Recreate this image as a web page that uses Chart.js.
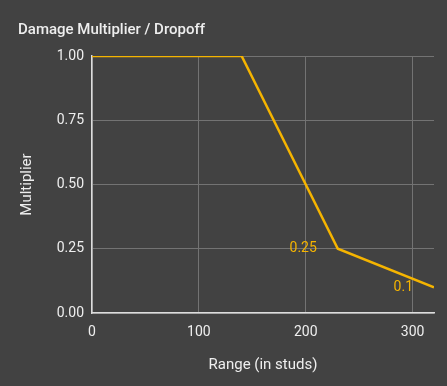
<!DOCTYPE html>
<html>
<head>
<meta charset="utf-8">
<script src="https://cdn.jsdelivr.net/npm/chart.js@4"></script>
<style>
  html, body { margin: 0; padding: 0; background: #424242; }
  #wrap { width: 447px; height: 386px; }
</style>
</head>
<body>
<div id="wrap"><canvas id="chart"></canvas></div>
<script>
// Data
const ranges = [0, 140, 230, 320];
const multipliers = [1, 1, 0.25, 0.1];
const pointNotes = ["", "", "0.25", "0.1"];
const xTicks = [0, 100, 200, 300];
const yTicks = [0, 0.25, 0.5, 0.75, 1];

const TEXT = "#eeeeee";
const LINE = "#f5b400";

// Draws the small value notes beside the last two points
const pointNotesPlugin = {
  id: "pointNotes",
  afterDatasetsDraw(chart) {
    const ctx = chart.ctx;
    const meta = chart.getDatasetMeta(0);
    ctx.save();
    ctx.font = "14px Roboto";
    ctx.fillStyle = LINE;
    ctx.textAlign = "right";
    ctx.textBaseline = "middle";
    meta.data.forEach((pt, i) => {
      if (!pointNotes[i]) return;
      ctx.fillText(pointNotes[i], pt.x - 21, pt.y);
    });
    ctx.restore();
  }
};

new Chart(document.getElementById("chart"), {
  type: "line",
  data: {
    datasets: [{
      data: ranges.map((r, i) => ({ x: r, y: multipliers[i] })),
      borderColor: LINE,
      borderWidth: 2.5,
      pointRadius: 0,
      tension: 0,
      fill: false
    }]
  },
  plugins: [pointNotesPlugin],
  options: {
    responsive: true,
    maintainAspectRatio: false,
    animation: false,
    layout: { padding: { left: 18, right: 13, top: 0, bottom: 0 } },
    plugins: {
      legend: { display: false },
      tooltip: { enabled: false },
      title: {
        display: true,
        text: "Damage Multiplier / Dropoff",
        align: "start",
        color: TEXT,
        font: { family: "Roboto", size: 15, weight: "500" },
        padding: { top: 21, bottom: 17 }
      }
    },
    scales: {
      x: {
        type: "linear",
        min: 0,
        max: 320,
        afterFit: (s) => { s.height = 73; },
        afterBuildTicks: (s) => { s.ticks = xTicks.map((v) => ({ value: v })); },
        ticks: {
          color: TEXT,
          padding: 11,
          font: { family: "Roboto", size: 14 }
        },
        grid: { color: "#737373", drawTicks: false },
        border: { color: "#dddddd", width: 1.5 },
        title: {
          display: true,
          text: "Range (in studs)",
          color: TEXT,
          font: { family: "Roboto", size: 15 },
          padding: { top: 0, bottom: 12 }
        }
      },
      y: {
        min: 0,
        max: 1,
        afterFit: (s) => { s.width = 74; },
        afterBuildTicks: (s) => { s.ticks = yTicks.map((v) => ({ value: v })); },
        ticks: {
          color: TEXT,
          padding: 8,
          callback: (v) => v.toFixed(2),
          font: { family: "Roboto", size: 14 }
        },
        grid: { color: "#737373", drawTicks: false },
        border: { color: "#dddddd", width: 1.5 },
        title: {
          display: true,
          text: "Multiplier",
          color: TEXT,
          font: { family: "Roboto", size: 15 },
          padding: { top: 0, bottom: 0 }
        }
      }
    }
  }
});
</script>
</body>
</html>
